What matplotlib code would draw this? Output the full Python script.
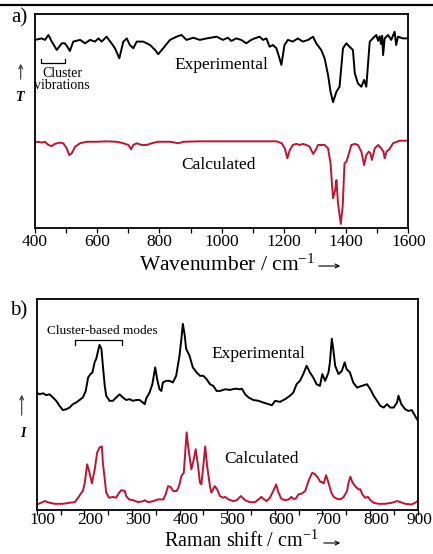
import matplotlib
matplotlib.use("Agg")
import matplotlib.pyplot as plt
import matplotlib.transforms as mtransforms
from matplotlib.lines import Line2D
from matplotlib.ticker import MultipleLocator

plt.rcParams["font.family"] = ["Liberation Serif", "DejaVu Serif"]
plt.rcParams["mathtext.fontset"] = "custom"
plt.rcParams["mathtext.rm"] = "Liberation Serif"
plt.rcParams["mathtext.it"] = "Liberation Serif:italic"

# panel a: IR transmittance (arbitrary %)
ir_exp_wn = [400, 421, 432, 443, 454, 470, 486, 496, 504, 512, 523, 545, 561, 577, 593,
             604, 614, 630, 646, 657, 671, 684, 695, 705, 716, 727, 748, 770, 786, 796,
             812, 834, 855, 871, 887, 909, 930, 952, 984, 1004, 1020, 1031, 1047, 1063,
             1079, 1095, 1106, 1122, 1133, 1144, 1154, 1165, 1176, 1186, 1192, 1202, 1213,
             1229, 1245, 1261, 1278, 1294, 1304, 1320, 1331, 1342, 1350, 1358, 1369, 1379,
             1390, 1401, 1411, 1422, 1428, 1438, 1449, 1458, 1465, 1476, 1486, 1497, 1503,
             1508, 1512, 1516, 1519, 1524, 1535, 1545, 1556, 1561, 1567, 1583, 1600]
ir_exp_t = [87.9, 88.6, 87.9, 90.2, 87.1, 83.2, 86.3, 86.3, 84.7, 82.7, 87.1, 87.9, 86.3, 87.9, 87.1,
            88.6, 87.1, 89.4, 86.3, 84.0, 79.3, 87.1, 88.6, 85.5, 84.0, 87.1, 87.1, 85.5, 83.2, 81.2,
            84.0, 87.9, 89.4, 90.2, 87.9, 88.9, 87.9, 88.6, 89.4, 87.9, 88.9, 87.4, 88.6, 87.9,
            86.3, 87.9, 88.6, 89.4, 87.9, 88.6, 84.7, 85.5, 84.0, 79.3, 76.2, 85.5, 87.9,
            87.1, 88.6, 87.1, 87.9, 89.4, 86.3, 83.2, 79.3, 71.5, 63.7, 58.8, 63.7, 66.0,
            84.0, 86.3, 84.7, 83.2, 72.3, 67.6, 66.0, 69.2, 66.0, 87.1, 88.6, 90.2, 87.5,
            89.6, 86.0, 89.8, 80.8, 88.6, 90.2, 87.9, 91.7, 85.5, 89.4, 88.6, 88.6]

ir_calc_wn = [400, 411, 421, 432, 443, 454, 464, 480, 491, 502, 510, 518, 529, 545, 566,
              598, 630, 663, 684, 700, 709, 716, 727, 743, 759, 775, 796, 834, 861, 877,
              930, 1038, 1145, 1177, 1193, 1203, 1211, 1219, 1229, 1240, 1251, 1261, 1272,
              1283, 1294, 1302, 1310, 1331, 1342, 1350, 1358, 1365, 1369, 1374, 1383, 1389,
              1395, 1401, 1406, 1417, 1428, 1438, 1449, 1458, 1465, 1473, 1478, 1483, 1492,
              1503, 1513, 1520, 1524, 1530, 1539, 1551, 1572, 1600]
ir_calc_t = [40.0, 40.3, 39.9, 40.3, 38.8, 38.3, 39.3, 39.9, 39.6, 37.2, 34.1, 34.9, 38.0, 39.6, 40.3,
             40.3, 40.5, 40.3, 39.6, 38.8, 36.8, 38.8, 39.6, 38.8, 38.8, 39.6, 40.3, 40.3, 39.6, 40.3,
             40.5, 40.5, 40.5, 40.5, 39.6, 37.2, 32.6, 36.4, 38.8, 39.3, 38.8, 39.3, 38.8,
             38.0, 34.6, 36.4, 38.8, 38.8, 37.2, 30.2, 13.9, 17.8, 22.4, 11.5, 1.9, 10.0,
             30.2, 31.0, 33.3, 38.8, 39.3, 38.8, 35.7, 29.4, 34.1, 35.7, 34.9, 31.8, 37.2,
             38.8, 37.2, 35.7, 32.6, 35.7, 36.8, 39.6, 40.8, 40.8]

# panel b: Raman intensity (arbitrary)
raman_exp_shift = [100, 106, 113, 120, 127, 134, 141, 148, 155, 162, 169, 176, 183, 190, 197,
                   203, 208, 213, 217, 222, 225, 229, 232, 236, 239, 243, 246, 253, 260, 267,
                   274, 281, 288, 295, 302, 309, 316, 323, 327, 330, 337, 343, 349, 353, 358,
                   362, 365, 372, 379, 386, 393, 400, 404, 407, 411, 414, 421, 428, 436, 443,
                   450, 457, 464, 471, 478, 485, 496, 506, 517, 527, 531, 538, 545, 555, 566,
                   576, 587, 594, 601, 611, 622, 632, 639, 646, 653, 660, 667, 674, 681, 688,
                   695, 700, 706, 713, 716, 720, 723, 727, 734, 741, 747, 751, 758, 765, 773,
                   783, 794, 801, 808, 815, 822, 829, 836, 843, 850, 857, 860, 866, 874, 881,
                   888, 895, 899]
raman_exp_i = [55.6, 54.8, 55.3, 54.4, 54.8, 53.3, 51.7, 49.3, 47.3, 47.7, 48.5, 50.1, 50.9, 52.1, 53.3,
               56.4, 62.8, 64.4, 65.2, 70.3, 71.6, 75.6, 78.3, 76.4, 68.4, 58.8, 54.1, 51.7, 51.7, 53.3,
               54.8, 53.3, 52.1, 52.5, 51.7, 52.1, 52.1, 50.9, 50.1, 52.8, 55.6, 59.6, 67.6, 62.0, 57.2,
               56.4, 60.4, 61.2, 61.2, 60.4, 63.6, 73.2, 81.2, 88.3, 82.8, 76.4, 73.2, 67.6, 65.2, 63.6,
               63.6, 62.0, 59.6, 58.8, 56.4, 56.4, 57.2, 56.9, 57.5, 57.2, 57.5, 54.8, 53.3, 52.1, 51.7,
               50.9, 50.1, 49.6, 51.7, 51.2, 52.5, 54.1, 55.6, 59.6, 61.2, 64.4, 68.4, 65.2, 62.8, 59.6,
               58.8, 64.4, 61.2, 65.2, 70.0, 81.2, 76.4, 68.4, 64.4, 65.9, 70.0, 66.8, 65.2, 60.4, 58.0,
               58.8, 59.6, 57.2, 54.1, 51.7, 49.3, 48.5, 50.1, 48.5, 48.5, 50.9, 54.1, 50.1, 47.7, 46.9,
               47.3, 44.5, 42.9]

raman_calc_shift = [100, 106, 117, 127, 138, 155, 169, 180, 187, 194, 197, 201, 206, 211, 216,
                    222, 227, 232, 237, 239, 243, 246, 252, 260, 267, 273, 278, 285, 288, 294,
                    303, 313, 324, 327, 334, 345, 355, 366, 371, 376, 381, 387, 394, 399, 404,
                    409, 415, 418, 422, 425, 430, 434, 439, 443, 446, 450, 454, 458, 464, 467,
                    474, 479, 485, 492, 496, 503, 513, 520, 529, 538, 548, 559, 566, 572, 576,
                    583, 590, 597, 603, 608, 614, 622, 629, 635, 639, 644, 650, 657, 664, 671,
                    677, 679, 685, 691, 696, 699, 703, 708, 713, 719, 724, 731, 738, 745, 752,
                    755, 759, 763, 769, 776, 780, 784, 790, 796, 801, 808, 818, 832, 846, 857,
                    864, 874, 888, 895, 899]
raman_calc_i = [2.4, 2.9, 4.0, 3.2, 2.7, 2.7, 3.2, 3.5, 5.6, 8.0, 8.8, 12.7, 21.5, 17.5, 12.4,
                19.1, 27.1, 29.5, 30.0, 22.3, 14.3, 8.0, 5.6, 6.0, 5.6, 8.0, 9.2, 8.8, 6.4, 4.8,
                4.4, 3.5, 4.0, 4.4, 3.5, 4.0, 4.8, 4.8, 7.2, 11.1, 10.8, 8.8, 8.8, 11.1, 15.9,
                17.5, 36.7, 30.3, 23.9, 19.1, 23.9, 28.7, 20.7, 12.7, 12.0, 20.7, 30.0, 20.7, 11.1, 8.0,
                11.1, 9.6, 6.4, 5.6, 6.0, 4.8, 4.0, 4.4, 6.4, 4.4, 3.5, 3.5, 4.8, 6.0, 5.1,
                4.0, 5.6, 8.8, 11.9, 8.0, 5.1, 4.4, 4.8, 6.0, 5.1, 5.1, 7.2, 7.6, 8.8, 13.5,
                16.7, 17.5, 16.7, 15.1, 13.1, 13.1, 12.4, 16.3, 12.7, 8.0, 6.0, 5.1, 4.8, 6.0, 8.8,
                12.7, 15.6, 13.1, 11.1, 9.6, 9.6, 7.2, 5.6, 6.0, 4.4, 3.2, 2.7, 2.7, 3.2, 4.0,
                3.5, 2.7, 2.4, 3.2, 3.8]

RED = "#c4122e"
W, H = 433, 554
fig = plt.figure(figsize=(W / 100, H / 100), dpi=100)


def box(l, t, r, b):
    return [l / W, 1 - b / H, (r - l) / W, (b - t) / H]


def ftext(x, y, s, **kw):
    kw.setdefault("ha", "center")
    kw.setdefault("va", "center")
    fig.text(x / W, 1 - y / H, s, **kw)


def farrow(x0, y0, x1, y1, lw=0.8, color="k"):
    fig.add_artist(matplotlib.patches.FancyArrowPatch(
        (x0 / W, 1 - y0 / H), (x1 / W, 1 - y1 / H), transform=fig.transFigure,
        arrowstyle="->", mutation_scale=7, lw=lw, color=color))


def style(ax):
    for sp in ax.spines.values():
        sp.set_linewidth(1.3)
    ax.set_yticks([])
    ax.tick_params(axis="x", which="both", direction="out", length=3.5,
                   width=0.9, labelsize=12.5, top=False)
    ax.set_ylim(0, 100)


# top rule of the page
fig.add_artist(Line2D([0, 1], [1 - 4.5 / H] * 2, lw=1.6, color="k"))

# ---- panel a ----
ax1 = fig.add_axes(box(35, 14, 408.3, 228))
ax1.plot(ir_exp_wn, ir_exp_t, color="k", lw=1.4)
ax1.plot(ir_calc_wn, ir_calc_t, color=RED, lw=1.4)
ax1.set_xlim(400, 1600)
ax1.xaxis.set_major_locator(MultipleLocator(200))
ax1.xaxis.set_minor_locator(MultipleLocator(100))
style(ax1)
ax1.tick_params(axis="x", pad=1)
ax1.plot([418, 418, 496, 496], [78.9, 77.1, 77.1, 78.9], color="k", lw=0.9)

ftext(19, 17.5, "a)", fontsize=15)
ftext(221, 65, "Experimental", fontsize=12.5)
ftext(218.5, 165, "Calculated", fontsize=12.5)
ftext(62, 79.5, "Cluster\nvibrations", fontsize=10, linespacing=0.95)
ftext(20.5, 97.5, "T", fontsize=10, fontstyle="italic", fontweight="bold")
farrow(20.7, 82, 20.7, 61, color="#333333")
ftext(227, 265.5, "Wavenumber / cm$^{\\mathregular{-1}}$", fontsize=15.5)
farrow(316, 266, 343, 266)

# ---- panel b ----
ax2 = fig.add_axes(box(36.7, 299.3, 417.5, 509.5))
ax2.plot(raman_exp_shift, raman_exp_i, color="k", lw=1.4)
ax2.plot(raman_calc_shift, raman_calc_i, color=RED, lw=1.4)
ax2.set_xlim(100, 900)
ax2.xaxis.set_major_locator(MultipleLocator(100))
ax2.xaxis.set_minor_locator(MultipleLocator(50))
style(ax2)
ax2.tick_params(axis="x", pad=-1.5)
fig.canvas.draw()
for lab in ax2.get_xticklabels():
    dx = 1.5 if lab.get_text() == "900" else 4.5
    shift = mtransforms.ScaledTranslation(dx / 72, 0, fig.dpi_scale_trans)
    lab.set_transform(lab.get_transform() + shift)
ax2.plot([180, 180, 280, 280], [78.1, 80.5, 80.5, 78.1], color="k", lw=0.9)

ftext(18.5, 311, "b)", fontsize=15)
ftext(102, 331, "Cluster-based modes", fontsize=9.5)
ftext(258, 354, "Experimental", fontsize=12.5)
ftext(261.5, 459, "Calculated", fontsize=12.5)
ftext(22.5, 433.5, "I", fontsize=10, fontstyle="italic", fontweight="bold")
farrow(21.7, 418, 21.7, 392, color="#333333")
ftext(241.5, 541.5, "Raman shift / cm$^{\\mathregular{-1}}$", fontsize=14.5)
farrow(321, 543, 343, 543)

fig.savefig("out.png", dpi=100)
